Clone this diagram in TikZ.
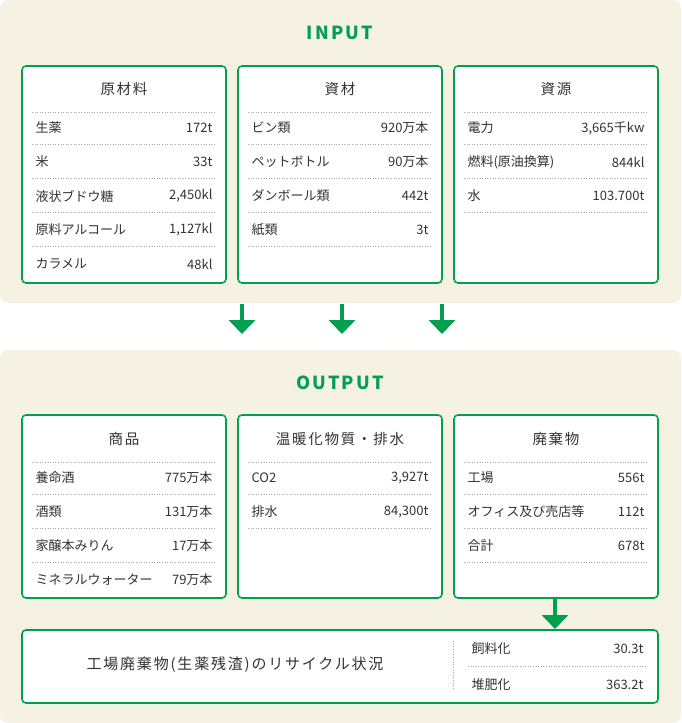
\documentclass[tikz,border=0pt]{standalone}
\usepackage{fontspec}
\setmainfont{Noto Sans CJK JP}
\usetikzlibrary{arrows.meta}
\definecolor{bgc}{HTML}{F6F2E3}
\definecolor{grn}{HTML}{00A050}
\definecolor{txt}{HTML}{333333}
\tikzset{
 panel/.style={fill=bgc,rounded corners=8pt},
 card/.style={draw=grn,line width=1.6pt,fill=white,rounded corners=4pt},
 head/.style={text=grn,font=\fontsize{18}{18}\selectfont\bfseries\addfontfeatures{LetterSpace=12}},
 ttl/.style={text=txt,font=\fontsize{14.5}{14.5}\selectfont\addfontfeatures{LetterSpace=12}},
 lab/.style={text=txt,font=\fontsize{13}{13}\selectfont,anchor=west},
 val/.style={text=txt,font=\fontsize{13}{13}\selectfont,anchor=east},
 sep/.style={draw=gray!70,dotted,line width=0.6pt},
 flow/.style={draw=grn,line width=4pt,-{Triangle[length=14pt,width=26pt]}}
}
\newcommand{\rowline}[5]{% x0, y, label, value, name
 \node[lab] (#5l) at (#1+10,#2) {#3};
 \node[val] (#5v) at (#1+194,#2) {#4};
 \draw[sep] (#1+10,#2+16.5) -- (#1+194,#2+16.5);}
\begin{document}
\begin{tikzpicture}[x=1pt,y=-1pt]
\useasboundingbox (0,0) rectangle (681,723);
\fill[panel] (0,0) rectangle (681,303);
\fill[panel] (0,350) rectangle (681,723);
\node[head] (in) at (340,33) {INPUT};
\node[head] (out) at (340,383) {OUTPUT};
% input cards
\foreach \x/\n in {22/a,238/b,454/c}{
 \draw[card] (\x,66) rectangle (\x+204,283);
 \draw[sep] (\x+10,112) -- (\x+194,112);
}
\node[ttl] (ta) at (124,89) {原材料};
\node[ttl] (tb) at (340,89) {資材};
\node[ttl] (tc) at (556,89) {資源};
\rowline{22}{128}{生薬}{172t}{a1}
\rowline{22}{162}{米}{33t}{a2}
\rowline{22}{196}{液状ブドウ糖}{2,450kl}{a3}
\rowline{22}{230}{原料アルコール}{1,127kl}{a4}
\node[lab] (a5l) at (32,264) {カラメル};
\node[val] (a5v) at (216,264) {48kl};
\rowline{238}{128}{ビン類}{920万本}{b1}
\rowline{238}{162}{ペットボトル}{90万本}{b2}
\rowline{238}{196}{ダンボール類}{442t}{b3}
\rowline{238}{230}{紙類}{3t}{b4}
\rowline{454}{128}{電力}{3,665千kw}{c1}
\rowline{454}{162}{燃料(原油換算)}{844kl}{c2}
\rowline{454}{196}{水}{103.700t}{c3}
% arrows
\coordinate (f1) at (242,304); \coordinate (g1) at (242,334);
\coordinate (f2) at (342,304); \coordinate (g2) at (342,334);
\coordinate (f3) at (442,304); \coordinate (g3) at (442,334);
\draw[flow] (f1) -- (g1);
\draw[flow] (f2) -- (g2);
\draw[flow] (f3) -- (g3);
% output cards
\foreach \x in {22,238,454}{
 \draw[card] (\x,415) rectangle (\x+204,598);
 \draw[sep] (\x+10,462) -- (\x+194,462);
}
\node[ttl] (td) at (124,439) {商品};
\node[ttl] (te) at (340,439) {温暖化物質・排水};
\node[ttl] (tf) at (556,439) {廃棄物};
\rowline{22}{478}{養命酒}{775万本}{d1}
\rowline{22}{512}{酒類}{131万本}{d2}
\rowline{22}{546}{家醸本みりん}{17万本}{d3}
\node[lab] (d4l) at (32,580) {ミネラルウォーター};
\node[val] (d4v) at (216,580) {79万本};
\rowline{238}{478}{CO2}{3,927t}{e1}
\rowline{238}{512}{排水}{84,300t}{e2}
\rowline{454}{478}{工場}{556t}{f1}
\rowline{454}{512}{オフィス及び売店等}{112t}{f2}
\rowline{454}{546}{合計}{678t}{f3}
% recycle
\draw[card] (22,630) rectangle (658,703);
\coordinate (h1) at (555,599); \coordinate (h2) at (555,629);
\draw[flow] (h1) -- (h2);
\node[ttl,font=\fontsize{15}{15}\selectfont\addfontfeatures{LetterSpace=12}] (rc) at (235,665) {工場廃棄物(生薬残渣)のリサイクル状況};
\draw[sep] (453,641) -- (453,690);
\node[lab] (r1l) at (468,649) {飼料化};
\node[val] (r1v) at (647,649) {30.3t};
\draw[sep] (468,666) -- (645,666);
\node[lab] (r2l) at (468,685) {堆肥化};
\node[val] (r2v) at (647,685) {363.2t};
\end{tikzpicture}
\end{document}
